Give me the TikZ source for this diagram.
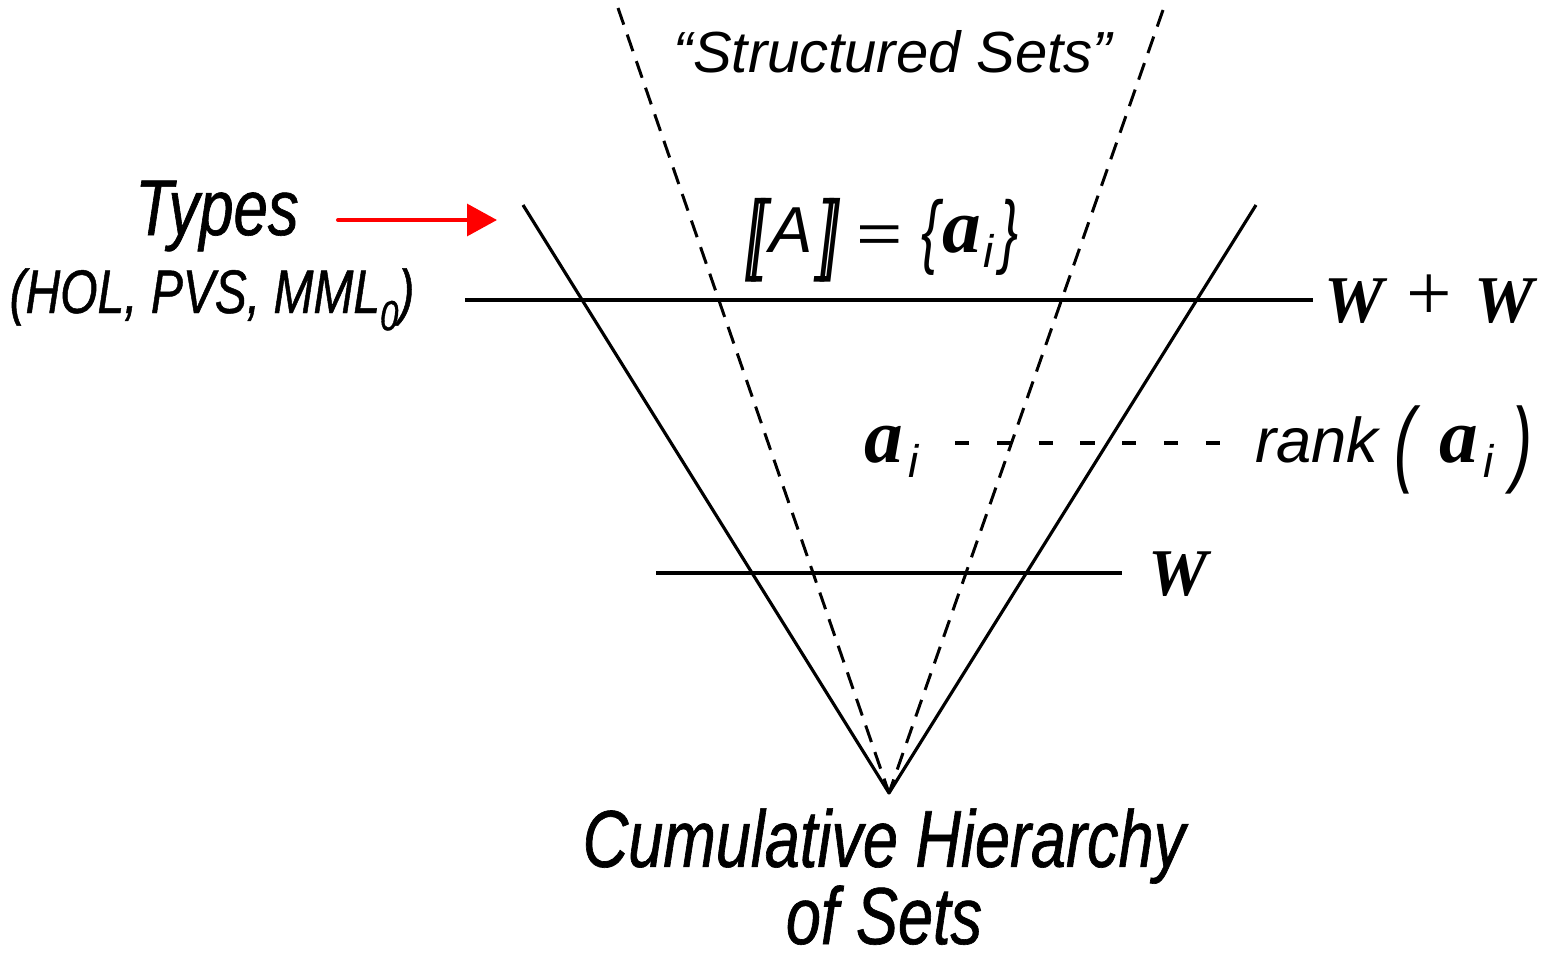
\documentclass[tikz,border=0pt]{standalone}
\usepackage{fontspec}
\usepackage{graphicx}
\setmainfont{Liberation Sans}
\newfontfamily\condfont[FakeStretch=0.78,FakeBold=0.8]{Liberation Sans}
\newfontfamily\serfont{Liberation Serif}
\usetikzlibrary{arrows.meta}
\newcommand{\bolda}{{\fontsize{44}{44}\selectfont\serfont\bfseries\itshape a}}
\newcommand{\bigW}{{\serfont\bfseries\itshape W}}
\newcommand{\subi}{\raisebox{-9pt}{\fontsize{26}{28}\selectfont\itshape i}}
\newcommand{\lsem}{\raisebox{-0.22em}{\scalebox{1}[1.65]{[\kern-0.16em[}}}
\newcommand{\rsem}{\raisebox{-0.22em}{\scalebox{1}[1.65]{]\kern-0.16em]}}}
\begin{document}
\begin{tikzpicture}[x=0.02cm,y=-0.02cm,
  solidline/.style={line width=1.8pt, line join=round},
  dashline/.style={line width=1.7pt, dash pattern=on 10pt off 6pt},
  rankdash/.style={line width=1.8pt, dash pattern=on 8pt off 15.8pt},
  redarrow/.style={draw=red, line width=2.3pt, line cap=round, -{Triangle[length=17pt,width=18pt]}},
  lbl/.style={inner sep=0pt, anchor=base}]
\useasboundingbox (0,0) rectangle (1547,963);
% cone geometry
\coordinate (apex) at (889,793);
\coordinate (sl) at (523,205);
\coordinate (sr) at (1256,205);
\coordinate (dl) at (618,8);
\coordinate (dr) at (1163,10);
\draw[solidline] (sl) -- (apex) -- (sr);
\draw[dashline] (dl) -- (apex);
\draw[dashline] (dr) -- (apex);
% levels
\coordinate (t1) at (465,300);
\coordinate (t2) at (1313,300);
\draw[solidline] (t1) -- (t2);
\coordinate (b1) at (656,573);
\coordinate (b2) at (1122,573);
\draw[solidline] (b1) -- (b2);
\node[lbl, anchor=base west] (ww) at (1324,322) {\fontsize{38}{40}\selectfont\bigW\hspace{13pt}{\serfont\fontsize{46}{46}\selectfont\raisebox{0.02em}{+}}\hspace{13pt}\bigW};
\node[lbl, anchor=base west] (w) at (1148,595) {\fontsize{38}{40}\selectfont\bigW};
% labels
\node[lbl] (types) at (217,235) {\fontsize{45}{50}\selectfont\condfont\itshape Types};
\node[lbl] (sys) at (212,313) {\fontsize{35}{40}\selectfont\condfont\itshape (HOL, PVS, MML\raisebox{-0.28em}{\fontsize{24}{26}\selectfont 0})};
\coordinate (ra1) at (338,220);
\coordinate (ra2) at (497,220);
\draw[redarrow] (ra1) -- (ra2);
\node[lbl] (ss) at (893,72) {\fontsize{33}{36}\selectfont\itshape “Structured Sets”};
\node[lbl, anchor=base west] (sem) at (746,252) {\fontsize{31}{33}\selectfont\itshape \lsem\hspace{1pt}{\fontsize{37}{38}\selectfont A}\hspace{3pt}\rsem\hspace{9pt}\scalebox{1.45}[1]{=}\hspace{11pt}\raisebox{-0.12em}{\scalebox{1}[1.5]{\{}}\hspace{2pt}\bolda\hspace{1pt}\subi\hspace{4pt}\raisebox{-0.12em}{\scalebox{1}[1.5]{\}}}};
\node[lbl, anchor=base west] (ai) at (864,462) {\bolda\hspace{3pt}\subi};
\node[lbl, anchor=base west] (rank) at (1255,462) {\fontsize{36}{38}\selectfont\itshape rank\hspace{9pt}\raisebox{-0.2em}{\scalebox{1}[1.5]{(}}\hspace{14pt}\bolda\hspace{3pt}\subi\hspace{10pt}\raisebox{-0.2em}{\scalebox{1}[1.5]{)}}};
\coordinate (rd1) at (955,443);
\coordinate (rd2) at (1224,443);
\draw[rankdash] (rd1) -- (rd2);
\node[lbl, align=center] (chs) at (884,944) {\fontsize{46}{42.5}\selectfont\condfont\itshape Cumulative Hierarchy\\\fontsize{46}{42.5}\selectfont\condfont\itshape of Sets};
\end{tikzpicture}
\end{document}
